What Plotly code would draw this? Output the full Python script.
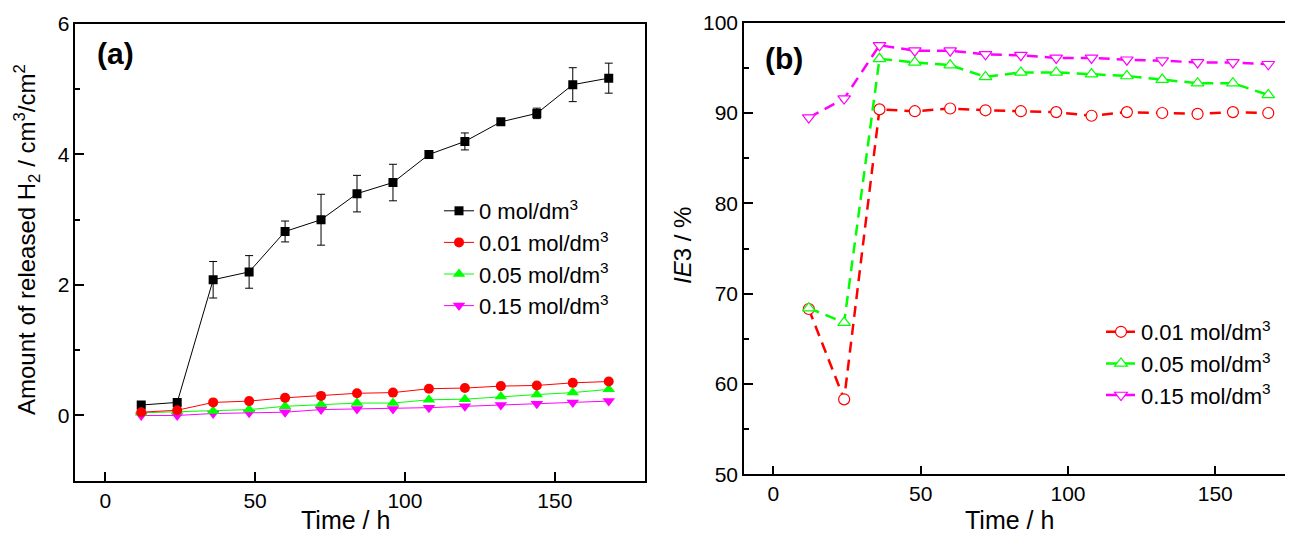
import plotly.graph_objects as go

# ---------------- data ----------------
time_h = [12, 24, 36, 48, 60, 72, 84, 96, 108, 120, 132, 144, 156, 168]

# panel (a): amount of released H2 / cm3/cm2
h2_0 = [0.16, 0.20, 2.08, 2.20, 2.82, 3.00, 3.40, 3.57, 4.00, 4.20, 4.50, 4.63, 5.07, 5.17]
h2_0_err = [0.03, 0.03, 0.28, 0.25, 0.16, 0.39, 0.28, 0.28, 0.04, 0.13, 0.03, 0.08, 0.26, 0.23]
h2_001 = [0.05, 0.08, 0.20, 0.22, 0.27, 0.30, 0.34, 0.35, 0.41, 0.42, 0.45, 0.46, 0.50, 0.52]
h2_005 = [0.04, 0.06, 0.07, 0.09, 0.14, 0.17, 0.19, 0.19, 0.24, 0.25, 0.29, 0.32, 0.35, 0.40]
h2_015 = [0.00, 0.00, 0.03, 0.04, 0.05, 0.09, 0.10, 0.10, 0.12, 0.14, 0.16, 0.18, 0.20, 0.22]

# panel (b): IE3 / %
ie_001 = [68.3, 58.3, 90.4, 90.2, 90.5, 90.3, 90.2, 90.1, 89.7, 90.1, 90.0, 89.9, 90.1, 90.0]
ie_005 = [68.4, 66.8, 96.0, 95.6, 95.3, 94.0, 94.5, 94.5, 94.3, 94.1, 93.7, 93.3, 93.3, 92.0]
ie_015 = [89.5, 91.6, 97.5, 96.9, 96.9, 96.5, 96.4, 96.1, 96.1, 95.9, 95.8, 95.6, 95.6, 95.4]

names_a = ["0 mol/dm<sup>3</sup>", "0.01 mol/dm<sup>3</sup>", "0.05 mol/dm<sup>3</sup>", "0.15 mol/dm<sup>3</sup>"]
names_b = ["0.01 mol/dm<sup>3</sup>", "0.05 mol/dm<sup>3</sup>", "0.15 mol/dm<sup>3</sup>"]

FONT = "Arial, Liberation Sans, sans-serif"
OFF = 8                      # default page body margin
W, H = 1293 - OFF, 535 - OFF


def px(x):
    return (x - OFF) / W


def py(y):
    return 1 - (y - OFF) / H


fig = go.Figure()

# ---- panel (a)
fig.add_trace(go.Scatter(
    x=time_h, y=h2_0, name=names_a[0], mode="lines+markers",
    line=dict(color="black", width=1),
    marker=dict(symbol="square", size=9, color="black"),
    error_y=dict(type="data", array=h2_0_err, visible=True, color="black", thickness=1, width=4),
    xaxis="x", yaxis="y", legend="legend", legendrank=1, legendgroup="a0"))
fig.add_trace(go.Scatter(
    x=time_h, y=h2_015, name=names_a[3], mode="lines+markers",
    line=dict(color="#ff00ff", width=1),
    marker=dict(symbol="triangle-down", size=11, color="#ff00ff"),
    xaxis="x", yaxis="y", legend="legend", legendrank=4, legendgroup="a3"))
fig.add_trace(go.Scatter(
    x=time_h, y=h2_005, name=names_a[2], mode="lines+markers",
    line=dict(color="#00ff00", width=1),
    marker=dict(symbol="triangle-up", size=11, color="#00ff00"),
    xaxis="x", yaxis="y", legend="legend", legendrank=3, legendgroup="a2"))
fig.add_trace(go.Scatter(
    x=time_h, y=h2_001, name=names_a[1], mode="lines+markers",
    line=dict(color="#ff0000", width=1),
    marker=dict(symbol="circle", size=10, color="#ff0000"),
    xaxis="x", yaxis="y", legend="legend", legendrank=2, legendgroup="a1"))

# ---- panel (b)
for i, (ys, nm, col, sym) in enumerate([(ie_001, names_b[0], "#ff0000", "circle"),
                                        (ie_005, names_b[1], "#00ff00", "triangle-up"),
                                        (ie_015, names_b[2], "#ff00ff", "triangle-down")]):
    fig.add_trace(go.Scatter(
        x=time_h, y=ys, name=nm, mode="lines+markers",
        line=dict(color=col, width=2.5, dash="11px,7px"),
        marker=dict(symbol=sym, size=11, color="white", line=dict(color=col, width=1.2)),
        xaxis="x2", yaxis="y2", legend="legend2", legendgroup="b%d" % i))

axis_common = dict(showgrid=False, zeroline=False, showline=True, linecolor="black",
                   linewidth=1.5, ticks="inside", ticklen=9, tickwidth=1.5, tickcolor="black",
                   automargin=False,
                   tickfont=dict(family=FONT, size=21, color="black"))

fig.update_layout(
    template="none",
    width=W, height=H, margin=dict(l=0, r=0, t=0, b=0, pad=0, autoexpand=False),
    paper_bgcolor="white", plot_bgcolor="white",
    font=dict(family=FONT, color="black"),
    xaxis=dict(domain=[px(75.3), px(644.7)], range=[-10, 180], tickvals=[0, 50, 100, 150],
               mirror=True, anchor="y", **axis_common),
    yaxis=dict(domain=[py(480.7), py(24)], range=[-1, 6], tickvals=[0, 2, 4, 6],
               minor=dict(tickvals=[-1, 1, 3, 5], ticks="inside", ticklen=5, tickwidth=1.5, tickcolor="black"),
               mirror=True, anchor="x", **axis_common),
    xaxis2=dict(domain=[px(744), 1.0], range=[-10, 176.4], tickvals=[0, 50, 100, 150],
                mirror=True, anchor="y2", **axis_common),
    yaxis2=dict(domain=[py(474.3), py(22.7)], range=[50, 100], tickvals=[50, 60, 70, 80, 90, 100],
                minor=dict(tickvals=[55, 65, 75, 85, 95], ticks="inside", ticklen=5, tickwidth=1.5, tickcolor="black"),
                mirror=False, anchor="x2", **axis_common),
    legend=dict(x=px(439), y=py(190), xanchor="left", yanchor="top", tracegroupgap=0,
                bgcolor="rgba(0,0,0,0)", font=dict(family=FONT, size=22, color="black")),
    legend2=dict(x=px(1101), y=py(311), xanchor="left", yanchor="top", tracegroupgap=0,
                 bgcolor="rgba(0,0,0,0)", font=dict(family=FONT, size=22, color="black")),
    showlegend=True,
)

ann_base = dict(showarrow=False, xanchor="center", yanchor="middle")
ann = [
    dict(text="<b>(a)</b>", x=px(115), y=py(53), xref="paper", yref="paper",
         font=dict(family=FONT, size=30, color="black"), **ann_base),
    dict(text="<b>(b)</b>", x=px(783.5), y=py(58.5), xref="paper", yref="paper",
         font=dict(family=FONT, size=30, color="black"), **ann_base),
    dict(text="Time / h", x=80, xref="x", y=py(520), yref="paper",
         font=dict(family=FONT, size=25, color="black"), **ann_base),
    dict(text="Time / h", x=80, xref="x2", y=py(520), yref="paper",
         font=dict(family=FONT, size=25, color="black"), **ann_base),
    dict(text="Amount of released H<sub>2</sub> / cm<sup>3</sup>/cm<sup>2</sup>", textangle=-90,
         x=px(27), y=py(240), xref="paper", yref="paper",
         font=dict(family=FONT, size=24, color="black"), **ann_base),
    dict(text="<i>IE</i>3 / %", textangle=-90,
         x=px(682), y=py(246), xref="paper", yref="paper",
         font=dict(family=FONT, size=24, color="black"), **ann_base),
]
fig.update_layout(annotations=ann)

fig.write_html("out.html")
